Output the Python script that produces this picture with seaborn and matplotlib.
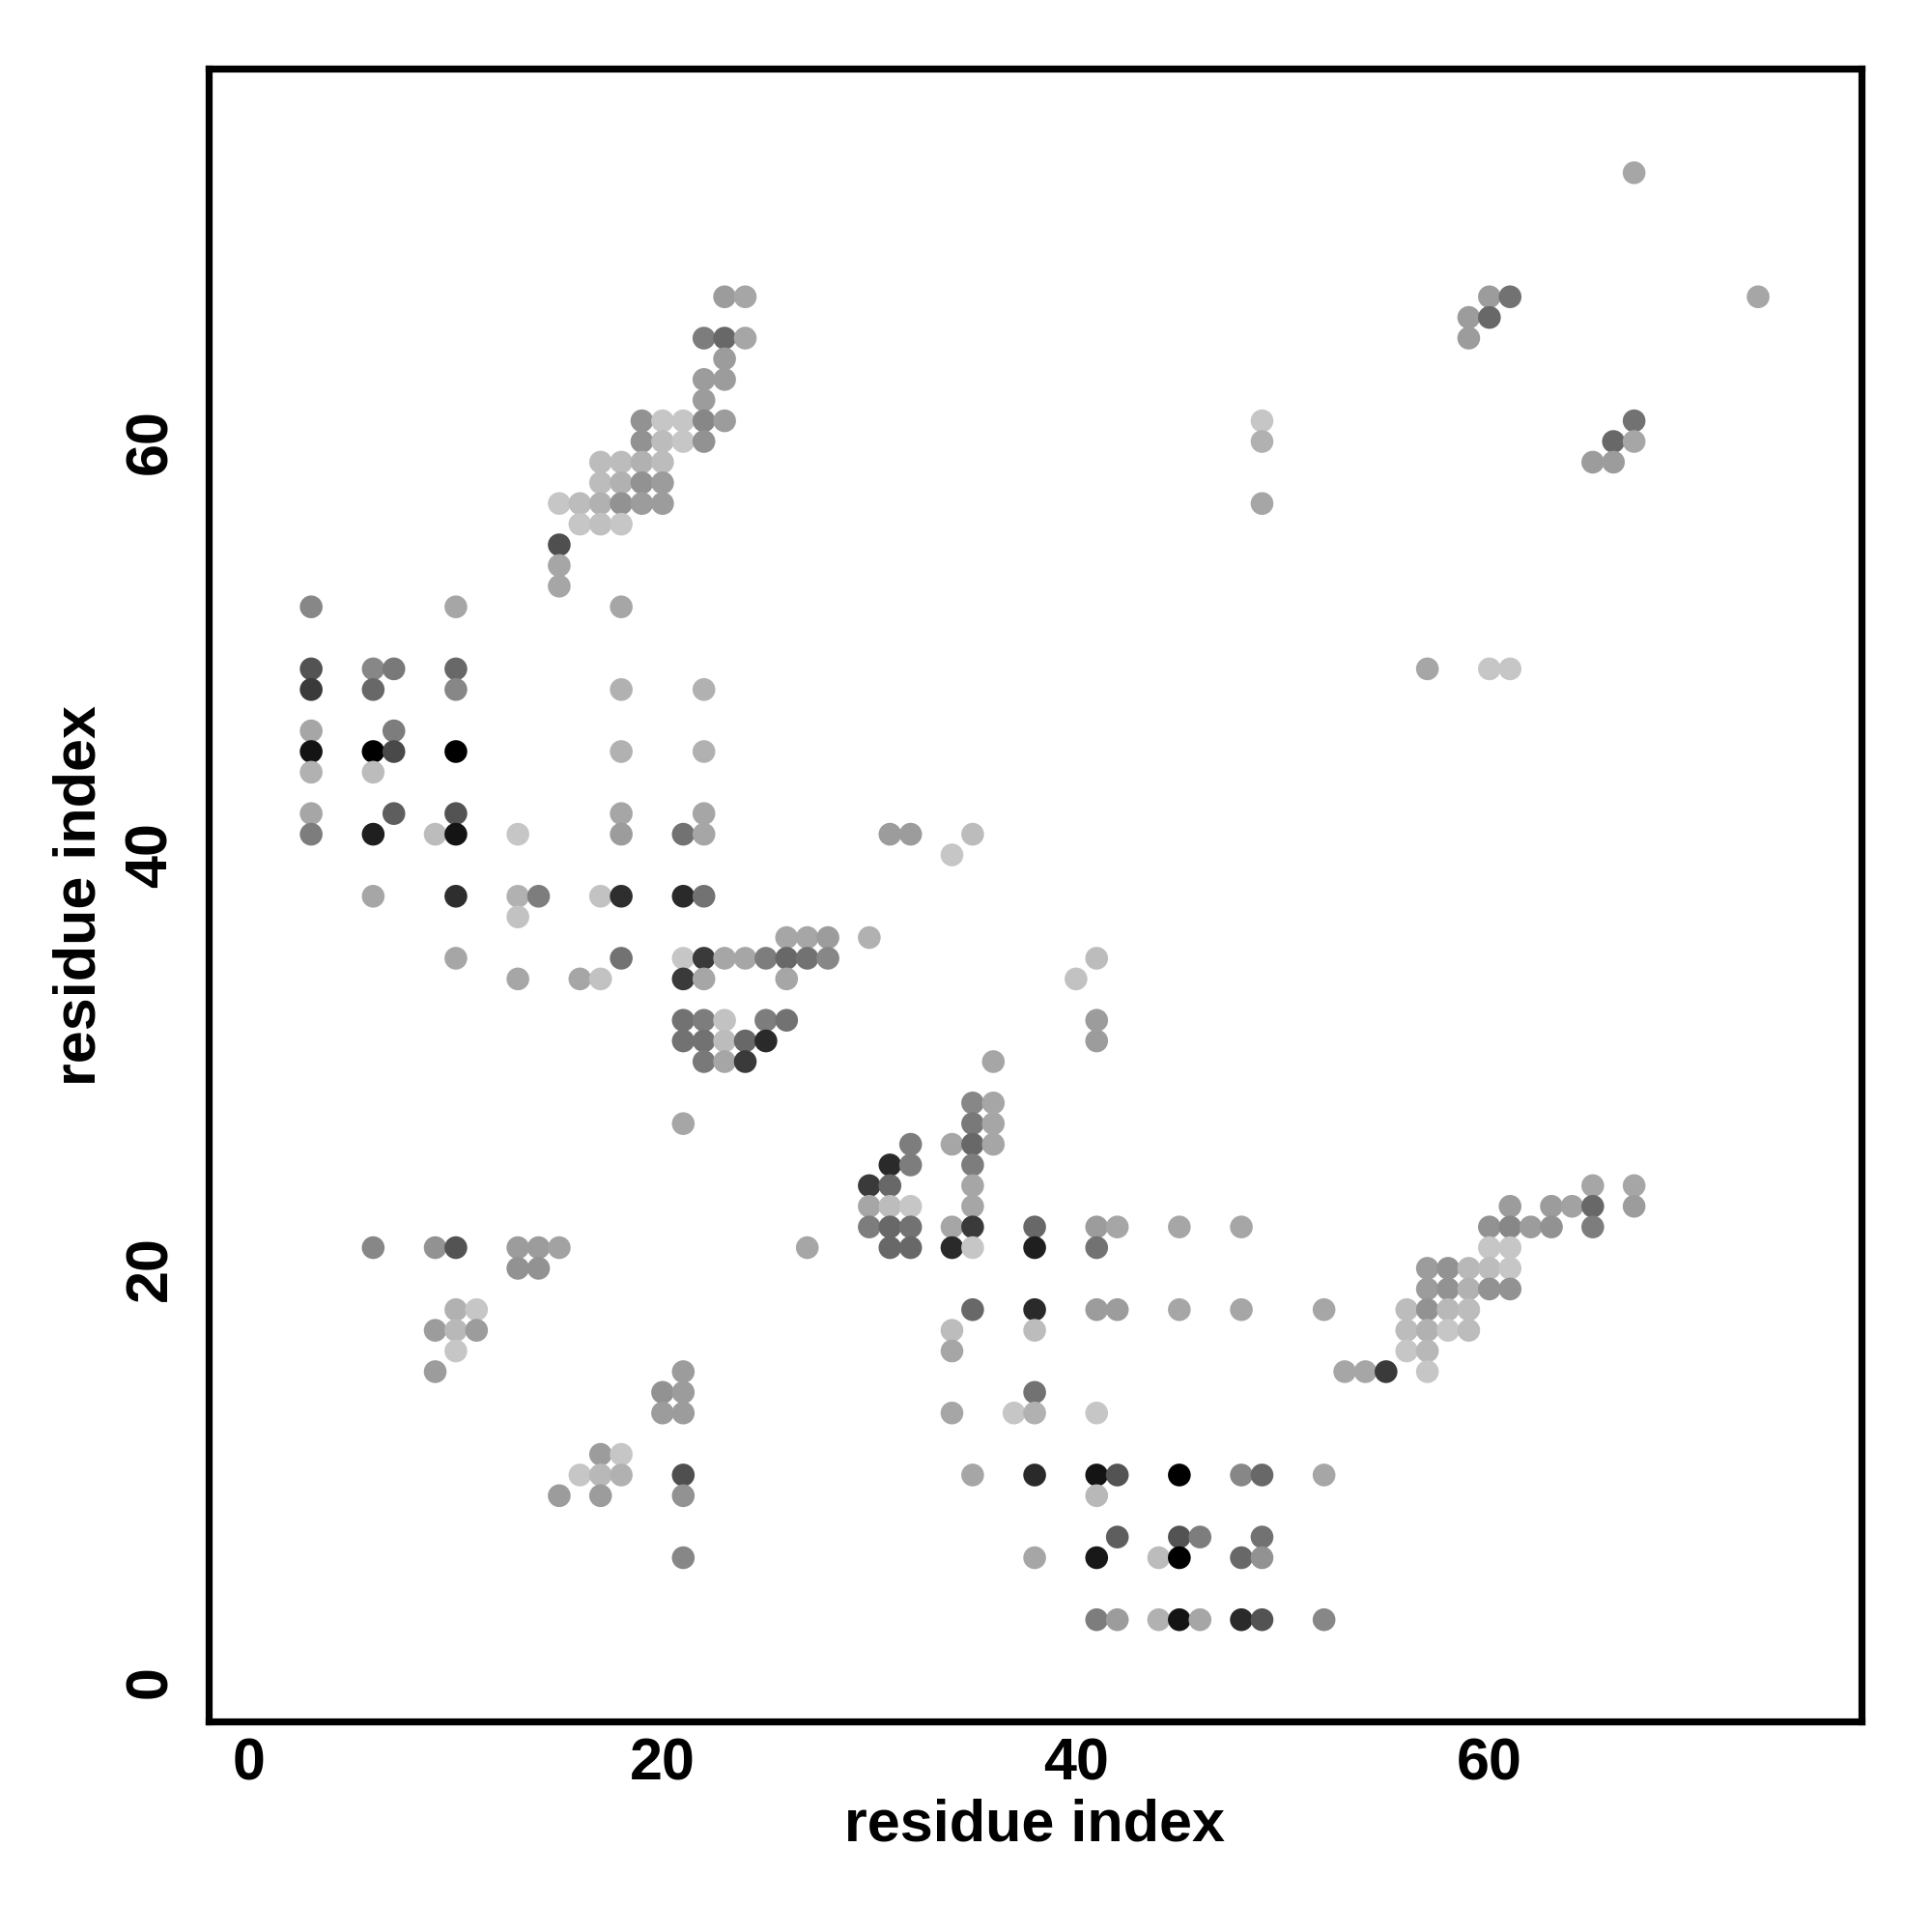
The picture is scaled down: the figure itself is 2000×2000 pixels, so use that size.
import numpy as np
import pandas as pd
import seaborn as sns
import matplotlib.pyplot as plt
from matplotlib.colors import LinearSegmentedColormap

# contact map: residue i, residue j, contact strength (0 = faint, 1 = strongest)
# grouped by j (rows of the map, top to bottom)
res_i = [
    67,                                   # j=73
    23, 24, 60, 61, 73,                   # j=67
    59, 60,                               # j=66
    22, 23, 24, 59,                       # j=65
    23,                                   # j=64
    22, 23,                               # j=63
    22,                                   # j=62
    19, 20, 21, 22, 23, 49, 67,           # j=61
    19, 20, 21, 22, 49, 66, 67,           # j=60
    17, 18, 19, 20, 65, 66,               # j=59
    17, 18, 19, 20,                       # j=58
    15, 16, 17, 18, 19, 20, 49,           # j=57
    16, 17, 18,                           # j=56
    15, 15, 15,                           # j=55,54,53
    3, 10, 18,                            # j=52
    3, 6, 7, 10, 57, 60, 61,              # j=49
    3, 6, 10, 18, 22,                     # j=48
    3, 7,                                 # j=46
    3, 6, 7, 10, 18, 22,                  # j=45
    3, 6,                                 # j=44
    3, 7, 10, 18, 22,                     # j=42
    3, 6, 9, 10, 13, 18, 21, 22, 31, 32, 35,  # j=41
    34,                                   # j=40
    6, 10, 13, 14, 17, 18, 21, 22,        # j=38
    13,                                   # j=37
    26, 27, 28, 30,                       # j=36
    10, 18, 21, 22, 23, 24, 25, 26, 27, 28, 41,  # j=35
    13, 16, 17, 21, 22, 26, 40,           # j=34
    21, 22, 23, 25, 26, 41,               # j=32
    21, 22, 23, 24, 25, 41,               # j=31
    22, 23, 24, 36,                       # j=30
    35, 36,                               # j=28
    21, 35, 36,                           # j=27
    32, 34, 35, 36,                       # j=26
    31, 32, 35,                           # j=25
    30, 31, 35, 65, 67,                   # j=24
    30, 31, 32, 35, 61, 63, 64, 65, 67,   # j=23
    30, 31, 32, 34, 35, 38, 41, 42, 45, 48, 60, 61, 62, 63, 65,  # j=22
    6, 9, 10, 13, 14, 15, 27, 31, 32, 34, 35, 38, 41, 60, 61,    # j=21
    13, 14, 57, 58, 59, 60, 61,           # j=20
    57, 58, 59, 60, 61,                   # j=19
    10, 11, 35, 38, 41, 42, 45, 48, 52, 56, 57, 58, 59,  # j=18
    9, 10, 11, 34, 38, 56, 57, 58, 59,    # j=17
    10, 34, 56, 57,                       # j=16
    9, 21, 53, 54, 55, 57,                # j=15
    20, 21, 38,                           # j=14
    20, 21, 34, 37, 38, 41,               # j=13
    17, 18,                               # j=11
    16, 17, 18, 21, 35, 38, 41, 42, 45, 48, 49, 52,  # j=10
    15, 17, 21, 41,                       # j=9
    42, 45, 46, 49,                       # j=7
    21, 38, 41, 44, 45, 48, 49,           # j=6
    41, 42, 44, 45, 46, 48, 49, 52,       # j=3
]

res_j = (
    [73] * 1 + [67] * 5 + [66] * 2 + [65] * 4 + [64] * 1 + [63] * 2 + [62] * 1
    + [61] * 7 + [60] * 7 + [59] * 6 + [58] * 4 + [57] * 7 + [56] * 3
    + [55, 54, 53] + [52] * 3 + [49] * 7 + [48] * 5 + [46] * 2 + [45] * 6
    + [44] * 2 + [42] * 5 + [41] * 11 + [40] * 1 + [38] * 8 + [37] * 1
    + [36] * 4 + [35] * 11 + [34] * 7 + [32] * 6 + [31] * 6 + [30] * 4
    + [28] * 2 + [27] * 3 + [26] * 4 + [25] * 3 + [24] * 5 + [23] * 9
    + [22] * 15 + [21] * 15 + [20] * 7 + [19] * 5 + [18] * 13 + [17] * 9
    + [16] * 4 + [15] * 6 + [14] * 3 + [13] * 6 + [11] * 2 + [10] * 12
    + [9] * 4 + [7] * 4 + [6] * 7 + [3] * 8
)

strength = [
    0.2,
    0.25, 0.2, 0.25, 0.45, 0.2,
    0.25, 0.5,
    0.4, 0.5, 0.2, 0.25,
    0.25,
    0.25, 0.25,
    0.25,
    0.3, 0.05, 0.05, 0.35, 0.25, 0.05, 0.45,
    0.3, 0.1, 0.05, 0.3, 0.15, 0.5, 0.2,
    0.1, 0.1, 0.15, 0.1, 0.25, 0.25,
    0.1, 0.15, 0.3, 0.25,
    0.05, 0.1, 0.15, 0.3, 0.25, 0.25, 0.2,
    0.05, 0.08, 0.05,
    0.62, 0.2, 0.2,
    0.35, 0.2, 0.2,
    0.6, 0.35, 0.42, 0.5, 0.2, 0.05, 0.05,
    0.72, 0.5, 0.35, 0.15, 0.15,
    0.2, 0.4,
    0.9, 1.0, 0.65, 1.0, 0.15, 0.15,
    0.15, 0.1,
    0.2, 0.55, 0.6, 0.2, 0.2,
    0.4, 0.85, 0.1, 0.9, 0.05, 0.25, 0.45, 0.2, 0.25, 0.25, 0.1,
    0.05,
    0.2, 0.78, 0.15, 0.4, 0.07, 0.78, 0.8, 0.45,
    0.07,
    0.2, 0.2, 0.25, 0.15,
    0.2, 0.45, 0.05, 0.72, 0.2, 0.2, 0.4, 0.5, 0.45, 0.35, 0.1,
    0.2, 0.2, 0.07, 0.72, 0.2, 0.2, 0.07,
    0.45, 0.4, 0.07, 0.4, 0.45, 0.25,
    0.45, 0.45, 0.1, 0.5, 0.8, 0.25,
    0.42, 0.2, 0.72, 0.2,
    0.35, 0.2,
    0.2, 0.42, 0.2,
    0.4, 0.2, 0.5, 0.2,
    0.8, 0.4, 0.4,
    0.72, 0.5, 0.2, 0.2, 0.2,
    0.2, 0.1, 0.05, 0.2, 0.25, 0.25, 0.22, 0.5, 0.25,
    0.4, 0.5, 0.45, 0.2, 0.72, 0.5, 0.25, 0.2, 0.2, 0.2, 0.3, 0.35, 0.25, 0.3, 0.4,
    0.35, 0.3, 0.6, 0.25, 0.25, 0.22, 0.2, 0.5, 0.5, 0.8, 0.05, 0.85, 0.45, 0.05, 0.05,
    0.3, 0.3, 0.25, 0.3, 0.12, 0.1, 0.05,
    0.25, 0.3, 0.15, 0.3, 0.3,
    0.15, 0.05, 0.5, 0.8, 0.25, 0.25, 0.2, 0.2, 0.2, 0.1, 0.3, 0.12, 0.1,
    0.25, 0.12, 0.25, 0.1, 0.1, 0.1, 0.15, 0.05, 0.1,
    0.05, 0.2, 0.05, 0.12,
    0.25, 0.25, 0.2, 0.2, 0.72, 0.05,
    0.3, 0.25, 0.45,
    0.25, 0.25, 0.2, 0.05, 0.15, 0.05,
    0.25, 0.05,
    0.05, 0.12, 0.15, 0.62, 0.2, 0.8, 0.9, 0.6, 1.0, 0.35, 0.5, 0.2,
    0.25, 0.25, 0.3, 0.12,
    0.55, 0.6, 0.4, 0.45,
    0.35, 0.2, 0.88, 0.1, 1.0, 0.5, 0.3,
    0.4, 0.25, 0.15, 0.9, 0.2, 0.8, 0.6, 0.35,
]

ticks = [0, 20, 40, 60]

df = pd.DataFrame({"i": res_i, "j": res_j, "strength": strength})

sns.set_style("white")
plt.rcParams["font.family"] = ["Liberation Sans", "DejaVu Sans"]
plt.rcParams["font.weight"] = "bold"

grey_map = LinearSegmentedColormap.from_list("contact", ["#d0d0d0", "#000000"])

fig = plt.figure(figsize=(10, 10), dpi=200)
ax = fig.add_axes([0.108, 0.109, 0.8555, 0.8555])

sns.scatterplot(data=df, x="i", y="j", hue="strength", palette=grey_map,
                hue_norm=(0, 1), s=72, linewidth=0, legend=False, ax=ax)

ax.set_xlim(-1.96, 78.0)
ax.set_ylim(-1.92, 78.04)
ax.set_xticks(ticks)
ax.set_yticks(ticks)
ax.set_yticklabels([str(t) for t in ticks], rotation=90, va="center")
ax.tick_params(axis="both", direction="out", length=4, width=1.2,
               labelsize=22, color="black", labelcolor="black")
ax.tick_params(axis="x", pad=2)
ax.tick_params(axis="y", pad=7)
ax.set_xlabel("residue index", fontsize=22, fontweight="bold",
              color="black", labelpad=2)
ax.set_ylabel("residue index", fontsize=22, fontweight="bold",
              color="black", labelpad=6)
for spine in ax.spines.values():
    spine.set_visible(True)
    spine.set_color("black")
    spine.set_linewidth(2.6)

fig.savefig("out.png", dpi=200, facecolor="white")
